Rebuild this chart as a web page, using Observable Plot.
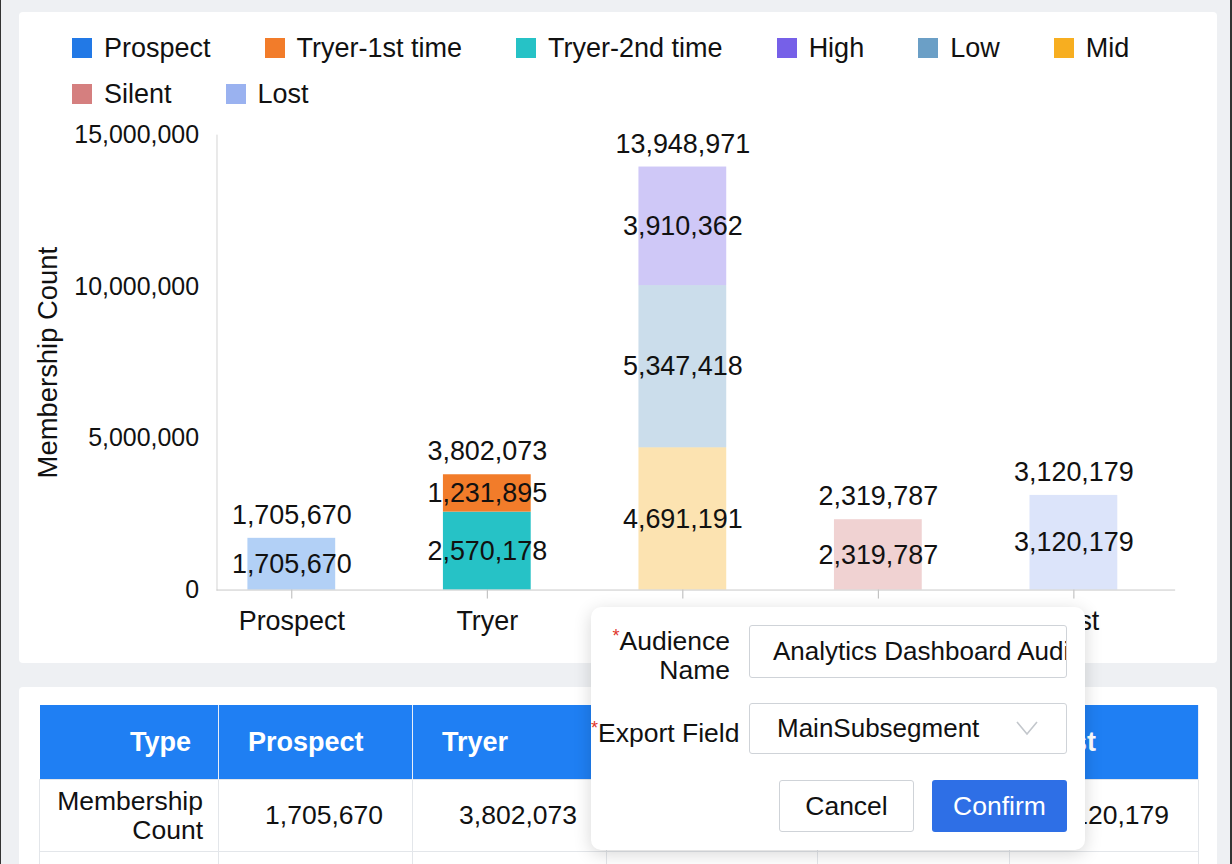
<!DOCTYPE html>
<html>
<head>
<meta charset="utf-8">
<script src="https://cdn.jsdelivr.net/npm/d3@7"></script>
<script src="https://cdn.jsdelivr.net/npm/@observablehq/plot@0.6"></script>
<style>
  html, body { margin: 0; padding: 0; }
  body {
    width: 1232px; height: 864px; position: relative; overflow: hidden;
    background: #eef0f3; font-family: "Liberation Sans", Arial, sans-serif; color: #111;
    border-left: 1px solid #333; border-right: 2px solid #333; box-sizing: border-box;
  }
  .card { position: absolute; background: #fff; border-radius: 4px; }
  #chartCard { left: 18px; top: 12px; width: 1198px; height: 651px; }
  #tableCard { left: 18px; top: 687px; width: 1198px; height: 200px; }
  #legend {
    position: absolute; left: 71px; top: 25px; width: 1120px;
    display: flex; flex-wrap: wrap; column-gap: 54px; font-size: 27px;
  }
  #legend .item { display: flex; align-items: center; height: 46px; }
  #legend .sw { width: 20px; height: 20px; margin-right: 12px; }
  #chart { position: absolute; left: 0; top: 0; }
  table {
    position: absolute; left: 38px; top: 705px; border-collapse: collapse;
    table-layout: fixed; font-size: 26.5px;
  }
  th { background: #1f7ff3; color: #fff; font-weight: bold; height: 74px; text-align: left;
       padding: 0 0 0 29px; border-right: 1px solid #e8eef8; font-size: 27px; }
  th.first { text-align: right; padding: 0 27px 0 0; }
  td { height: 71px; border: 1px solid #e3e6ea; text-align: right; padding: 0 29px 0 0; }
  td.first { padding-right: 15px; line-height: 29px; }
  #dialog {
    position: absolute; left: 590px; top: 607px; width: 494px; height: 243px;
    background: #fff; border-radius: 10px; box-shadow: 0 4px 18px rgba(0,0,0,0.16);
    font-size: 26.5px;
  }
  .lbl { position: absolute; text-align: right; line-height: 29px; white-space: nowrap; }
  .req { color: #e0362c; font-size: 18px; vertical-align: 8px; }
  .box { position: absolute; border: 1px solid #cfd3d8; border-radius: 3px; box-sizing: border-box;
         overflow: hidden; white-space: nowrap; display: flex; align-items: center; font-size: 26px; }
  .btn { position: absolute; border-radius: 3px; box-sizing: border-box; display: flex;
         align-items: center; justify-content: center; }
</style>
</head>
<body>
<div class="card" id="chartCard"></div>
<div class="card" id="tableCard"></div>
<div id="legend"></div>
<div id="chart"></div>
<table id="summary"></table>

<div id="dialog">
  <div class="lbl" style="left:0; width:139px; top:15px;"><span class="req">*</span>Audience<br>Name</div>
  <div class="box" style="left:158px; top:18px; width:318px; height:53px; padding-left:23px;">Analytics Dashboard Audience</div>
  <div class="lbl" style="left:0; width:143px; top:107px;"><span class="req">*</span>Export Field</div>
  <div class="box" style="left:158px; top:96px; width:318px; height:51px; padding-left:27px;">MainSubsegment
    <svg width="24" height="16" style="position:absolute; left:265px; top:16px;"><polyline points="2,2 12,14 22,2" fill="none" stroke="#c3c7cc" stroke-width="1.6"/></svg>
  </div>
  <div class="btn" style="left:188px; top:173px; width:135px; height:52px; border:1px solid #cfd3d8;">Cancel</div>
  <div class="btn" style="left:341px; top:173px; width:135px; height:52px; background:#2e6fe6; color:#fff;">Confirm</div>
</div>

<script>
// Categories along the x axis
const categories = ["Prospect", "Tryer", "Active", "Silent", "Lost"];

// Legend series and their colours
const seriesNames = ["Prospect", "Tryer-1st time", "Tryer-2nd time", "High", "Low", "Mid", "Silent", "Lost"];
const seriesColors = ["#2279e6", "#f27c2a", "#26c2c6", "#7660e8", "#6b9fc6", "#f7ae20", "#d57f7f", "#9ab2f0"];

// Stacked segments, listed bottom to top within each category
const segCategory = ["Prospect", "Tryer", "Tryer", "Active", "Active", "Active", "Silent", "Lost"];
const segSeries = ["Prospect", "Tryer-2nd time", "Tryer-1st time", "Mid", "Low", "High", "Silent", "Lost"];
const segValue = [1705670, 2570178, 1231895, 4691191, 5347418, 3910362, 2319787, 3120179];

// Y axis ticks
const yTicks = [0, 5000000, 10000000, 15000000];

// Category currently highlighted
const focusCategory = "Tryer";

const fmt = d3.format(",");
const segments = segCategory.map((c, i) => ({category: c, series: segSeries[i], value: segValue[i]}));

// Legend
const legend = document.getElementById("legend");
seriesNames.forEach((name, i) => {
  const item = document.createElement("div");
  item.className = "item";
  item.innerHTML = `<span class="sw" style="background:${seriesColors[i]}"></span><span>${name}</span>`;
  legend.appendChild(item);
});

const chart = Plot.plot({
  width: 1232,
  height: 664,
  marginTop: 135,
  marginBottom: 73,
  marginLeft: 216,
  marginRight: 55,
  style: {background: "transparent", fontFamily: "'Liberation Sans', Arial, sans-serif", fontSize: "27px", color: "#111"},
  x: {domain: categories, range: [192, 1175], paddingInner: 0.55, paddingOuter: 0.275},
  y: {domain: [0, 15000000]},
  color: {domain: seriesNames, range: seriesColors},
  marks: [
    Plot.frame({anchor: "left", stroke: "#d4d4d4"}),
    Plot.axisY({ticks: yTicks, tickFormat: fmt, tickSize: 0, tickPadding: 18, fontSize: 25,
                label: null}),
    Plot.axisY({ticks: [], tickSize: 0, fontSize: 27.5,
                label: "Membership Count", labelAnchor: "center", labelOffset: 180, labelArrow: "none"}),
    Plot.axisX({tickSize: 9, tickPadding: 12, stroke: "#b8b8b8", label: null}),
    Plot.barY(segments, {
      x: "category", y: "value", fill: "series", order: null,
      fillOpacity: d => d.category === focusCategory ? 1 : 0.35
    }),
    Plot.ruleY([0], {stroke: "#c8c8c8"}),
    Plot.text(segments, Plot.stackY({
      x: "category", y: "value", z: "series", order: null,
      text: d => fmt(d.value), fill: "#111"
    })),
    Plot.text(segments, Plot.groupX(
      {y: "sum", text: v => fmt(d3.sum(v))},
      {x: "category", y: "value", text: "value", dy: -23, fill: "#111"}
    ))
  ]
});
document.getElementById("chart").appendChild(chart);

// Summary table built from the same segment values
const totals = categories.map(c => d3.sum(segments.filter(d => d.category === c), d => d.value));
const colWidths = [179, 194, 194, 211, 192, 189];
const table = document.getElementById("summary");
let html = "<colgroup>" + colWidths.map(w => `<col style="width:${w}px">`).join("") + "</colgroup>";
html += "<tr><th class='first'>Type</th>" + categories.map(c => `<th>${c}</th>`).join("") + "</tr>";
html += "<tr><td class='first'>Membership<br>Count</td>" + totals.map(t => `<td>${fmt(t)}</td>`).join("") + "</tr>";
html += "<tr>" + colWidths.map(() => "<td></td>").join("") + "</tr>";
table.innerHTML = html;
</script>
</body>
</html>
